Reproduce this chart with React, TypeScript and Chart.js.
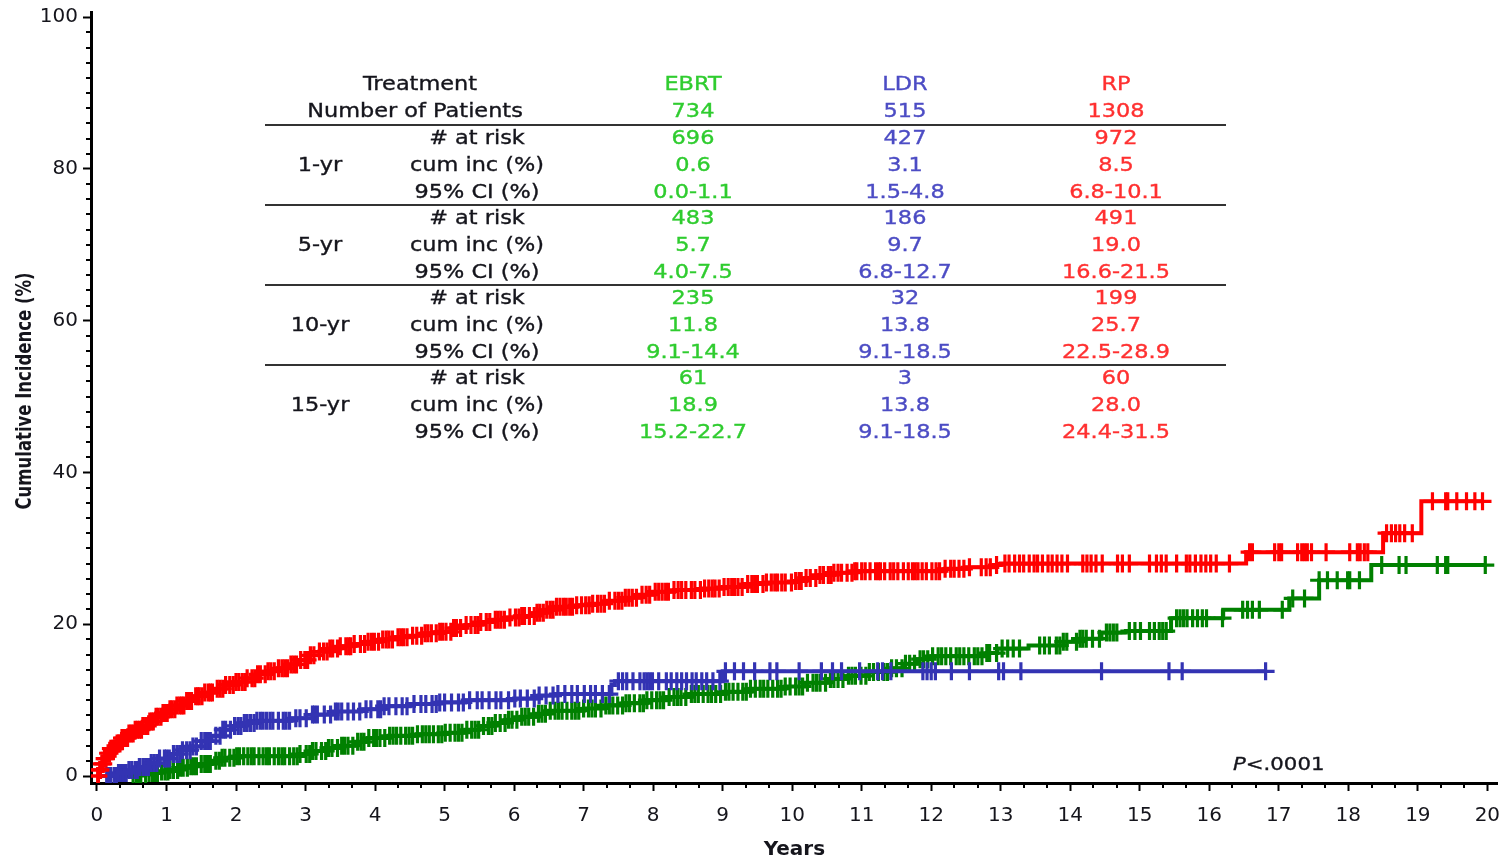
import React, { useEffect, useRef } from 'react';
import { Chart, registerables } from 'chart.js';

Chart.register(...registerables);

// ---------- table data ----------
const treatments = ['EBRT', 'LDR', 'RP'];
const numPatients = ['734', '515', '1308'];
const timepoints = ['1-yr', '5-yr', '10-yr', '15-yr'];
const rowLabels = ['# at risk', 'cum inc (%)', '95% CI (%)'];
const atRiskEBRT = ['696', '483', '235', '61'];
const atRiskLDR = ['427', '186', '32', '3'];
const atRiskRP = ['972', '491', '199', '60'];
const cumIncEBRT = ['0.6', '5.7', '11.8', '18.9'];
const cumIncLDR = ['3.1', '9.7', '13.8', '13.8'];
const cumIncRP = ['8.5', '19.0', '25.7', '28.0'];
const ciEBRT = ['0.0-1.1', '4.0-7.5', '9.1-14.4', '15.2-22.7'];
const ciLDR = ['1.5-4.8', '6.8-12.7', '9.1-18.5', '9.1-18.5'];
const ciRP = ['6.8-10.1', '16.6-21.5', '22.5-28.9', '24.4-31.5'];
const pValueText = '<.0001';

// ---------- axes ----------
const xTicks = [0, 1, 2, 3, 4, 5, 6, 7, 8, 9, 10, 11, 12, 13, 14, 15, 16, 17, 18, 19, 20];
const yTicks = [0, 20, 40, 60, 80, 100];

// ---------- step curves (time in years, cumulative incidence %) ----------
const rpTimes = [0, 0.03, 0.06, 0.1, 0.15, 0.2, 0.27, 0.35, 0.45, 0.55, 0.65, 0.75, 0.85, 0.95, 1.05, 1.15, 1.28, 1.4, 1.55, 1.7, 1.85, 2.0, 2.15, 2.3, 2.45, 2.6, 2.75, 2.9, 3.05, 3.2, 3.35, 3.5, 3.7, 3.9, 4.1, 4.3, 4.5, 4.7, 4.9, 5.1, 5.3, 5.5, 5.7, 5.9, 6.1, 6.3, 6.45, 6.6, 6.9, 7.1, 7.35, 7.6, 7.8, 8.0, 8.3, 8.7, 9.0, 9.3, 9.6, 10.0, 10.2, 10.4, 10.6, 10.9, 12.2, 12.5, 12.9, 13.0, 16.53, 18.5, 19.05, 19.93];
const rpInc = [0, 0.8, 1.6, 2.3, 3.0, 3.6, 4.3, 5.0, 5.6, 6.1, 6.6, 7.2, 7.8, 8.3, 8.8, 9.3, 9.9, 10.5, 11.0, 11.5, 12.0, 12.4, 12.9, 13.4, 13.8, 14.2, 14.7, 15.3, 15.9, 16.4, 16.8, 17.1, 17.4, 17.7, 18.0, 18.3, 18.5, 18.8, 19.0, 19.5, 19.9, 20.3, 20.6, 20.9, 21.1, 21.5, 21.9, 22.3, 22.5, 22.7, 23.1, 23.5, 23.9, 24.3, 24.5, 24.7, 24.9, 25.3, 25.5, 25.7, 26.1, 26.5, 26.8, 27.0, 27.3, 27.5, 27.8, 28.0, 29.5, 32.0, 36.2, 36.2];

const ldrTimes = [0, 0.12, 0.3, 0.45, 0.6, 0.75, 0.9, 1.05, 1.2, 1.35, 1.5, 1.65, 1.8, 1.95, 2.1, 2.3, 2.8, 3.1, 3.4, 3.8, 4.1, 4.5, 4.9, 5.3, 6.0, 6.35, 6.6, 7.4, 7.45, 9.0, 16.81];
const ldrInc = [0, 0, 0.4, 0.8, 1.2, 1.7, 2.3, 2.9, 3.4, 3.9, 4.6, 5.3, 6.1, 6.6, 7.0, 7.3, 7.6, 8.1, 8.5, 8.8, 9.2, 9.5, 9.7, 10.0, 10.2, 10.6, 10.8, 12.0, 12.5, 13.8, 13.8];

const ebrtTimes = [0, 0.5, 0.6, 0.75, 0.9, 1.05, 1.2, 1.35, 1.5, 1.65, 1.8, 2.0, 2.9, 3.1, 3.3, 3.5, 3.7, 3.9, 4.2, 4.6, 5.0, 5.3, 5.5, 5.7, 5.9, 6.1, 6.3, 6.5, 7.0, 7.3, 7.6, 7.9, 8.2, 8.5, 9.0, 9.4, 9.9, 10.2, 10.5, 10.8, 11.1, 11.4, 11.6, 11.8, 12.0, 12.8, 12.95, 13.4, 13.9, 14.1, 14.45, 14.8, 15.45, 16.2, 17.15, 17.58, 18.33, 19.97];
const ebrtInc = [0, 0, 0.2, 0.4, 0.6, 0.8, 1.1, 1.3, 1.6, 2.0, 2.4, 2.6, 2.9, 3.3, 3.7, 4.0, 4.5, 5.0, 5.3, 5.5, 5.7, 6.1, 6.6, 7.0, 7.4, 7.8, 8.2, 8.6, 8.9, 9.3, 9.6, 10.0, 10.4, 10.8, 11.1, 11.5, 11.8, 12.3, 12.8, 13.2, 13.7, 14.2, 14.8, 15.4, 15.8, 16.2, 16.8, 17.2, 17.7, 18.1, 18.9, 19.1, 20.8, 21.9, 23.4, 25.8, 27.8, 27.8];

// ---------- censoring times ----------
const rpCensor = [0.01, 0.02, 0.04, 0.05, 0.07, 0.09, 0.11, 0.13, 0.16, 0.18, 0.2, 0.22, 0.24, 0.26, 0.29, 0.31, 0.33, 0.36, 0.38, 0.41, 0.44, 0.46, 0.49, 0.52, 0.55, 0.58, 0.61, 0.64, 0.66, 0.7, 0.73, 0.76, 0.79, 0.81, 0.85, 0.88, 0.92, 0.95, 0.97, 1.01, 1.05, 1.08, 1.12, 1.15, 1.19, 1.22, 1.25, 1.29, 1.33, 1.36, 1.42, 1.45, 1.47, 1.51, 1.55, 1.6, 1.63, 1.66, 1.73, 1.77, 1.81, 1.85, 1.91, 1.96, 2.0, 2.04, 2.09, 2.13, 2.16, 2.23, 2.27, 2.31, 2.35, 2.42, 2.46, 2.5, 2.55, 2.61, 2.66, 2.7, 2.74, 2.79, 2.83, 2.87, 2.93, 2.99, 3.03, 3.07, 3.12, 3.2, 3.26, 3.31, 3.35, 3.39, 3.46, 3.5, 3.58, 3.62, 3.65, 3.7, 3.79, 3.85, 3.9, 3.95, 3.99, 4.05, 4.11, 4.16, 4.2, 4.25, 4.33, 4.37, 4.41, 4.46, 4.54, 4.6, 4.67, 4.72, 4.76, 4.81, 4.88, 4.93, 4.97, 5.02, 5.09, 5.13, 5.17, 5.23, 5.31, 5.38, 5.44, 5.48, 5.52, 5.6, 5.65, 5.73, 5.77, 5.81, 5.86, 5.94, 6.02, 6.07, 6.11, 6.15, 6.22, 6.29, 6.33, 6.37, 6.42, 6.47, 6.52, 6.56, 6.61, 6.66, 6.71, 6.75, 6.8, 6.84, 6.9, 6.97, 7.03, 7.08, 7.13, 7.2, 7.25, 7.3, 7.37, 7.45, 7.5, 7.55, 7.6, 7.65, 7.7, 7.76, 7.84, 7.9, 7.95, 8.03, 8.08, 8.13, 8.18, 8.22, 8.3, 8.36, 8.41, 8.47, 8.55, 8.6, 8.68, 8.74, 8.8, 8.85, 8.89, 8.95, 9.02, 9.08, 9.13, 9.17, 9.22, 9.28, 9.36, 9.42, 9.46, 9.5, 9.58, 9.63, 9.7, 9.75, 9.79, 9.85, 9.9, 9.99, 10.05, 10.1, 10.13, 10.2, 10.26, 10.34, 10.4, 10.45, 10.52, 10.56, 10.6, 10.66, 10.71, 10.79, 10.86, 10.9, 10.93, 11.0, 11.05, 11.12, 11.2, 11.24, 11.27, 11.33, 11.41, 11.46, 11.52, 11.6, 11.67, 11.73, 11.77, 11.81, 11.87, 11.93, 12.01, 12.07, 12.12, 12.2, 12.28, 12.33, 12.4, 12.47, 12.55, 12.72, 12.79, 12.85, 12.94, 13.06, 13.12, 13.2, 13.27, 13.33, 13.41, 13.48, 13.53, 13.6, 13.68, 13.74, 13.81, 13.88, 13.96, 14.18, 14.24, 14.3, 14.37, 14.46, 14.68, 14.75, 14.85, 15.14, 15.24, 15.31, 15.38, 15.53, 15.67, 15.72, 15.8, 15.88, 15.95, 16.02, 16.1, 16.29, 16.58, 16.62, 16.94, 17.0, 17.04, 17.27, 17.33, 17.37, 17.41, 17.47, 17.68, 18.02, 18.13, 18.17, 18.23, 18.28, 18.55, 18.62, 18.68, 18.74, 18.81, 18.92, 19.21, 19.4, 19.43, 19.56, 19.7, 19.82, 19.93];

const ldrCensor = [0.14, 0.17, 0.2, 0.25, 0.28, 0.31, 0.35, 0.38, 0.42, 0.46, 0.5, 0.55, 0.58, 0.61, 0.66, 0.7, 0.74, 0.78, 0.82, 0.86, 0.9, 0.97, 1.0, 1.04, 1.1, 1.15, 1.19, 1.23, 1.29, 1.34, 1.38, 1.43, 1.5, 1.55, 1.59, 1.63, 1.71, 1.77, 1.81, 1.85, 1.92, 1.98, 2.03, 2.07, 2.12, 2.16, 2.21, 2.26, 2.3, 2.35, 2.39, 2.44, 2.49, 2.53, 2.61, 2.68, 2.72, 2.77, 2.86, 2.92, 3.01, 3.1, 3.13, 3.17, 3.27, 3.36, 3.43, 3.47, 3.52, 3.61, 3.69, 3.78, 3.87, 3.94, 4.04, 4.08, 4.13, 4.2, 4.3, 4.39, 4.46, 4.56, 4.66, 4.73, 4.82, 4.88, 4.93, 5.0, 5.1, 5.2, 5.27, 5.36, 5.47, 5.54, 5.64, 5.74, 5.81, 5.92, 6.01, 6.09, 6.19, 6.29, 6.36, 6.46, 6.56, 6.63, 6.73, 6.83, 6.91, 7.01, 7.1, 7.17, 7.27, 7.37, 7.5, 7.56, 7.62, 7.71, 7.81, 7.87, 7.91, 7.95, 7.99, 8.08, 8.19, 8.26, 8.34, 8.41, 8.48, 8.56, 8.62, 8.7, 8.77, 8.86, 8.96, 9.04, 9.17, 9.3, 9.46, 9.68, 9.78, 10.1, 10.42, 10.58, 10.71, 10.97, 11.23, 11.3, 11.42, 11.88, 11.94, 12.0, 12.06, 12.29, 12.55, 12.97, 13.04, 13.29, 14.45, 15.42, 15.61, 16.81];

const ebrtCensor = [0.52, 0.57, 0.6, 0.63, 0.7, 0.75, 0.8, 0.84, 0.87, 0.93, 0.98, 1.02, 1.05, 1.1, 1.16, 1.2, 1.24, 1.3, 1.35, 1.39, 1.43, 1.5, 1.55, 1.59, 1.63, 1.71, 1.76, 1.8, 1.84, 1.91, 1.97, 2.01, 2.05, 2.11, 2.17, 2.22, 2.26, 2.33, 2.39, 2.44, 2.48, 2.55, 2.61, 2.66, 2.7, 2.77, 2.83, 2.88, 2.92, 3.01, 3.06, 3.1, 3.15, 3.23, 3.29, 3.33, 3.38, 3.46, 3.52, 3.56, 3.61, 3.68, 3.75, 3.8, 3.84, 3.91, 3.98, 4.02, 4.07, 4.14, 4.21, 4.26, 4.31, 4.37, 4.44, 4.49, 4.54, 4.61, 4.68, 4.73, 4.78, 4.84, 4.91, 4.96, 5.01, 5.08, 5.15, 5.2, 5.25, 5.32, 5.39, 5.44, 5.49, 5.56, 5.63, 5.68, 5.73, 5.8, 5.87, 5.92, 5.97, 6.04, 6.11, 6.16, 6.21, 6.28, 6.35, 6.4, 6.45, 6.52, 6.59, 6.64, 6.69, 6.76, 6.83, 6.88, 6.93, 7.0, 7.07, 7.12, 7.17, 7.25, 7.32, 7.37, 7.42, 7.49, 7.56, 7.61, 7.66, 7.73, 7.81, 7.86, 7.91, 7.98, 8.05, 8.1, 8.15, 8.23, 8.3, 8.35, 8.4, 8.47, 8.55, 8.6, 8.65, 8.72, 8.79, 8.84, 8.9, 8.97, 9.04, 9.09, 9.15, 9.22, 9.29, 9.34, 9.4, 9.47, 9.54, 9.59, 9.65, 9.72, 9.79, 9.84, 9.9, 9.97, 10.05, 10.1, 10.15, 10.22, 10.3, 10.35, 10.4, 10.48, 10.55, 10.6, 10.66, 10.73, 10.81, 10.86, 10.91, 10.99, 11.06, 11.11, 11.17, 11.24, 11.32, 11.37, 11.43, 11.5, 11.58, 11.63, 11.69, 11.76, 11.84, 11.89, 11.95, 12.02, 12.1, 12.15, 12.21, 12.28, 12.36, 12.41, 12.47, 12.54, 12.62, 12.67, 12.73, 12.8, 12.84, 12.94, 13.02, 13.1, 13.18, 13.27, 13.56, 13.63, 13.7, 13.8, 13.85, 13.9, 13.95, 14.09, 14.14, 14.18, 14.23, 14.32, 14.42, 14.52, 14.57, 14.62, 14.67, 14.85, 14.93, 15.01, 15.14, 15.21, 15.28, 15.33, 15.38, 15.53, 15.58, 15.63, 15.68, 15.76, 15.83, 15.9, 15.96, 16.19, 16.48, 16.55, 16.62, 16.72, 17.05, 17.2, 17.37, 17.58, 17.7, 17.84, 17.99, 18.02, 18.16, 18.48, 18.73, 18.83, 19.28, 19.4, 19.43, 19.97];

// ---------- colours ----------
const RED = '#ff0000';
const BLUE = '#3333b3';
const GREEN = '#008000';
const TXT_EBRT = '#2fcc2f';
const TXT_LDR = '#4c4cc4';
const TXT_RP = '#ff3030';
const DARK = '#15151c';
const FONT = '"DejaVu Sans", Verdana, sans-serif';
const SX = 1.18;

function stepAt(times: number[], vals: number[], t: number): number {
  let v = vals[0];
  for (let i = 0; i < times.length; i++) {
    if (times[i] <= t) v = vals[i];
    else break;
  }
  return v;
}

function curve(times: number[], vals: number[]) {
  return times.map((t, i) => ({ x: t, y: vals[i] }));
}

function marks(times: number[], vals: number[], censor: number[]) {
  return censor.map((t) => ({ x: t, y: stepAt(times, vals, t) }));
}

function txt(ctx: CanvasRenderingContext2D, s: string, x: number, y: number, color: string, font: string, align: CanvasTextAlign = 'center') {
  ctx.save();
  ctx.translate(x, y);
  ctx.scale(SX, 1);
  ctx.font = font;
  ctx.fillStyle = color;
  ctx.strokeStyle = color;
  ctx.lineWidth = 0.35;
  ctx.textAlign = align;
  ctx.textBaseline = 'middle';
  ctx.fillText(s, 0, 0);
  ctx.strokeText(s, 0, 0);
  ctx.restore();
}

const minorTicks = {
  id: 'minorTicks',
  afterDraw(chart: any) {
    const { ctx, chartArea } = chart;
    const x = chart.scales.x;
    const y = chart.scales.y;
    ctx.save();
    ctx.strokeStyle = '#000';
    ctx.lineWidth = 2;
    for (let k = 0; k <= 60; k++) {
      if (k % 3 === 0) continue;
      const px = Math.round(x.getPixelForValue(k / 3));
      ctx.beginPath();
      ctx.moveTo(px, chartArea.bottom);
      ctx.lineTo(px, chartArea.bottom + 5);
      ctx.stroke();
    }
    for (let k = 0; k <= 50; k++) {
      if (k % 10 === 0) continue;
      const py = Math.round(y.getPixelForValue(k * 2));
      ctx.beginPath();
      ctx.moveTo(chartArea.left, py);
      ctx.lineTo(chartArea.left - 5, py);
      ctx.stroke();
    }
    ctx.restore();
  },
};

const tablePlugin = {
  id: 'riskTable',
  afterDraw(chart: any) {
    const ctx: CanvasRenderingContext2D = chart.ctx;
    const f = '19px ' + FONT;
    const cols = [693, 905, 1116];
    const colColors = [TXT_EBRT, TXT_LDR, TXT_RP];
    const atRisk = [atRiskEBRT, atRiskLDR, atRiskRP];
    const cumInc = [cumIncEBRT, cumIncLDR, cumIncRP];
    const ci = [ciEBRT, ciLDR, ciRP];
    txt(ctx, 'Treatment', 420, 85, DARK, f);
    txt(ctx, 'Number of Patients', 415, 112, DARK, f);
    treatments.forEach((t, i) => {
      txt(ctx, t, cols[i], 85, colColors[i], f);
      txt(ctx, numPatients[i], cols[i], 112, colColors[i], f);
    });
    timepoints.forEach((tp, g) => {
      const ly = 125 + 80 * g;
      ctx.save();
      ctx.strokeStyle = '#333';
      ctx.lineWidth = 2;
      ctx.beginPath();
      ctx.moveTo(265, ly);
      ctx.lineTo(1226, ly);
      ctx.stroke();
      ctx.restore();
      txt(ctx, tp, 320, ly + 41, DARK, f);
      rowLabels.forEach((rl, r) => txt(ctx, rl, 477, ly + 14 + 27 * r, DARK, f));
      for (let i = 0; i < 3; i++) {
        txt(ctx, atRisk[i][g], cols[i], ly + 14, colColors[i], f);
        txt(ctx, cumInc[i][g], cols[i], ly + 41, colColors[i], f);
        txt(ctx, ci[i][g], cols[i], ly + 68, colColors[i], f);
      }
    });
    // p-value
    const fi = 'italic 18px ' + FONT;
    const fr = '18px ' + FONT;
    ctx.save();
    ctx.font = fi;
    const pw = ctx.measureText('P').width * SX;
    ctx.restore();
    txt(ctx, 'P', 1233, 765, DARK, fi, 'left');
    txt(ctx, pValueText, 1233 + pw, 765, DARK, fr, 'left');

    // y-axis title, condensed bold, fitted to its length in the reference
    const yt = 'Cumulative Incidence (%)';
    ctx.save();
    ctx.font = 'bold 22px "DejaVu Sans Condensed", "DejaVu Sans", sans-serif';
    const w = ctx.measureText(yt).width;
    ctx.translate(25, 391);
    ctx.rotate(-Math.PI / 2);
    ctx.scale(237 / w, 1);
    ctx.fillStyle = DARK;
    ctx.textAlign = 'center';
    ctx.textBaseline = 'middle';
    ctx.fillText(yt, 0, 0);
    ctx.restore();
  },
};

export default function App() {
  const ref = useRef<HTMLCanvasElement | null>(null);
  useEffect(() => {
    if (!ref.current) return;
    const lineDs = (label: string, data: any[], color: string) => ({
      label,
      data,
      borderColor: color,
      backgroundColor: color,
      borderWidth: 4,
      stepped: 'before' as const,
      pointRadius: 0,
      fill: false,
      showLine: true,
    });
    const markDs = (label: string, data: any[], color: string) => ({
      label,
      data,
      borderColor: color,
      backgroundColor: color,
      showLine: false,
      pointStyle: 'cross' as const,
      pointRadius: 9,
      pointBorderWidth: 3.2,
      pointBorderColor: color,
    });
    const chart = new Chart(ref.current, {
      type: 'line',
      data: {
        datasets: [
          lineDs('RP', curve(rpTimes, rpInc), RED),
          markDs('RP censored', marks(rpTimes, rpInc, rpCensor), RED),
          lineDs('LDR', curve(ldrTimes, ldrInc), BLUE),
          markDs('LDR censored', marks(ldrTimes, ldrInc, ldrCensor), BLUE),
          lineDs('EBRT', curve(ebrtTimes, ebrtInc), GREEN),
          markDs('EBRT censored', marks(ebrtTimes, ebrtInc, ebrtCensor), GREEN),
        ] as any,
      },
      options: {
        responsive: false,
        animation: false,
        layout: { padding: { top: 3, right: 8, left: 0, bottom: 0 } },
        plugins: { legend: { display: false }, tooltip: { enabled: false }, title: { display: false } },
        scales: {
          x: {
            type: 'linear',
            min: -0.086,
            max: 20.15,
            afterBuildTicks: (s: any) => {
              s.ticks = xTicks.map((v) => ({ value: v }));
            },
            afterFit: (s: any) => {
              s.height = 77;
              s.paddingLeft = 0;
              s.paddingRight = 0;
            },
            grid: { drawOnChartArea: false, drawTicks: true, tickLength: 8, tickWidth: 2, tickColor: '#000' },
            border: { display: true, color: '#000', width: 3 },
            ticks: {
              font: { family: FONT, size: 20 },
              color: DARK,
              padding: 13,
              maxRotation: 0,
              autoSkip: false,
              callback: (v: any) => String(v),
            },
            title: {
              display: true,
              text: 'Years',
              font: { family: FONT, size: 20, weight: 'bold' },
              color: DARK,
              padding: { top: 0, bottom: -2 },
            },
          },
          y: {
            type: 'linear',
            min: -0.92,
            max: 100.66,
            afterBuildTicks: (s: any) => {
              s.ticks = yTicks.map((v) => ({ value: v }));
            },
            afterFit: (s: any) => {
              s.width = 91;
              s.paddingTop = 0;
              s.paddingBottom = 0;
            },
            grid: { drawOnChartArea: false, drawTicks: true, tickLength: 8, tickWidth: 2, tickColor: '#000' },
            border: { display: true, color: '#000', width: 3 },
            ticks: {
              font: { family: FONT, size: 20 },
              color: DARK,
              padding: 5,
              autoSkip: false,
              callback: (v: any) => String(v),
            },
            title: { display: false },
          },
        },
      } as any,
      plugins: [minorTicks, tablePlugin],
    });
    return () => chart.destroy();
  }, []);
  return (
    <div style={{ position: 'absolute', left: 0, top: 0, width: 1510, height: 860, background: '#fff' }}>
      <canvas ref={ref} width={1510} height={860} style={{ display: 'block' }} />
    </div>
  );
}
